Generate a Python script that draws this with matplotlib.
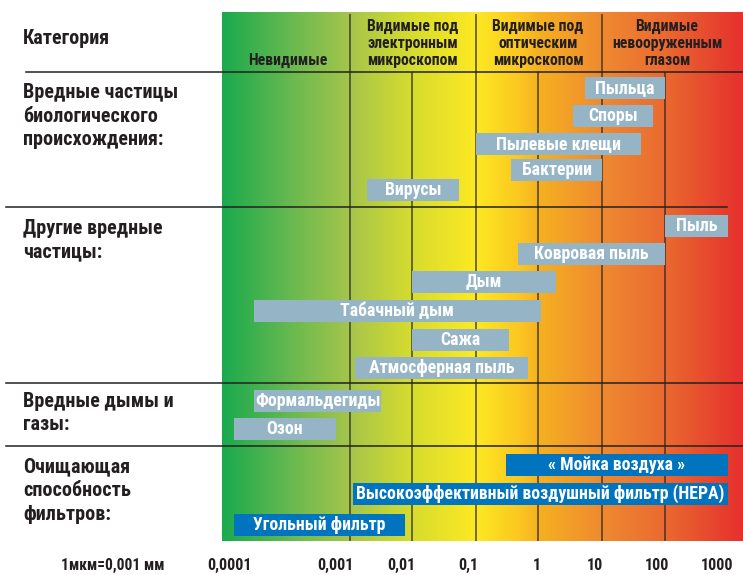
import numpy as np
import matplotlib
matplotlib.use("Agg")
import matplotlib.pyplot as plt
from matplotlib import font_manager
from matplotlib.transforms import ScaledTranslation

# шрифт: узкий, если есть
names = {f.name for f in font_manager.fontManager.ttflist}
candidates = ["Roboto Condensed", "Fira Sans Condensed", "PT Sans Narrow", "Archivo Narrow",
              "Liberation Sans Narrow", "DejaVu Sans"]
main_font = next(n for n in candidates if n in names)
plt.rcParams["font.family"] = [main_font, "DejaVu Sans"]
plt.rcParams["font.weight"] = "heavy"

# ---- данные (размер частиц, мкм) ----
bio_labels = ["Пыльца", "Споры", "Пылевые клещи", "Бактерии", "Вирусы"]
bio_low = [5.4, 3.5, 0.1, 0.37, 0.0019]
bio_high = [100, 65, 42, 10, 0.054]

other_labels = ["Пыль", "Ковровая пыль", "Дым", "Табачный дым", "Сажа", "Атмосферная пыль"]
other_low = [100, 0.48, 0.01, 0.00016, 0.01, 0.0012]
other_high = [1000, 100, 1.9, 1.1, 0.34, 0.7]

gas_labels = ["Формальдегиды", "Озон"]
gas_low = [0.00016, 0.00011]
gas_high = [0.0032, 0.00076]

filter_labels = ["« Мойка воздуха »", "Высокоэффективный воздушный фильтр (HEPA)", "Угольный фильтр"]
filter_low = [0.3, 0.0011, 0.00011]
filter_high = [1000, 1000, 0.0077]

category_labels = ["Вредные частицы\nбиологического\nпроисхождения:",
                   "Другие вредные\nчастицы:",
                   "Вредные дымы и\nгазы:",
                   "Очищающая\nспособность\nфильтров:"]
zone_labels = ["Невидимые", "Видимые под\nэлектронным\nмикроскопом",
               "Видимые под\nоптическим\nмикроскопом", "Видимые\nневооруженным\nглазом"]
tick_values = [1e-4, 1e-3, 1e-2, 1e-1, 1, 10, 100, 1000]
tick_labels = ["0,0001", "0,001", "0,01", "0,1", "1", "10", "100", "1000"]

# ---- шкала: логарифм, но левая зона растянута ----
W, H = 743, 575
log_knots = [-4.06, -4, -3, -2, -1, 0, 1, 2, 3, 3.24]
px_knots = [222, 229, 350, 412, 476, 538, 602, 665, 728, 743]


def fwd(v):
    v = np.asarray(v, dtype=float)
    return np.interp(np.log10(np.clip(v, 1e-12, None)), log_knots, px_knots)


def inv(p):
    return 10 ** np.interp(np.asarray(p, dtype=float), px_knots, log_knots)


TXT = "#231f20"
LIGHT = "#95b5c7"
BLUE = "#0074be"

fig = plt.figure(figsize=(W / 100, H / 100), dpi=100)

# фон в пикселях
bg = fig.add_axes([0, 0, 1, 1])
bg.set_xlim(0, W)
bg.set_ylim(H, 0)
bg.axis("off")

grad_px = [222, 300, 350, 412, 476, 520, 540, 602, 665, 743]
grad_col = ["#1aaa4e", "#72bb50", "#a5c54b", "#d6dc2e", "#fde923",
            "#fbc620", "#f5b020", "#ef8a30", "#ea6a30", "#e5302d"]
rgb = np.array([matplotlib.colors.to_rgb(c) for c in grad_col])
xs = np.linspace(222, 743, 600)
img = np.stack([np.interp(xs, grad_px, rgb[:, k]) for k in range(3)], axis=-1)[None, :, :]
bg.imshow(img, extent=[222, 743, 541, 12], aspect="auto", zorder=0)

# горизонтальные линии
bg.plot([26, 743], [72, 72], color="#222222", lw=1.1, zorder=1)
bg.plot([6, 727], [207, 207], color="#222222", lw=1.1, zorder=1)
bg.plot([6, 743], [383, 383], color="#222222", lw=1.1, zorder=1)
bg.plot([6, 743], [446, 446], color="#222222", lw=1.1, zorder=1)

bg.text(23, 39, "Категория", fontsize=14.5, color=TXT, va="center", ha="left")
for lbl, yc in zip(category_labels, [116, 240, 413, 491]):
    bg.text(23, yc, lbl, fontsize=14.5, color=TXT, va="center", ha="left", linespacing=1.33)
for lbl, xc in zip(zone_labels, [288, 413, 538, 667]):
    bg.text(xc, 68, lbl, fontsize=11.3, color=TXT, va="bottom", ha="center", linespacing=1.16)
bg.text(113, 565, "1мкм=0,001 мм", fontsize=11.2, color=TXT, va="center", ha="center")

# основная ось
ax = fig.add_axes([222 / W, (H - 541) / H, (743 - 222) / W, (541 - 12) / H])
ax.patch.set_alpha(0)
ax.set_xscale("function", functions=(fwd, inv))
ax.set_xlim(inv(222), inv(743))
ax.set_ylim(541, 12)
for s in ax.spines.values():
    s.set_visible(False)
ax.set_yticks([])
ax.set_xticks(tick_values)
ax.set_xticklabels(tick_labels, fontsize=11.5, color=TXT)
ax.tick_params(axis="x", length=0, pad=12)
for lbl, dx in zip(ax.get_xticklabels(), [0, -15, -11, -8, -1, -7, -8, -11]):
    lbl.set_transform(lbl.get_transform() + ScaledTranslation(dx / 100, 0, fig.dpi_scale_trans))

ax.vlines([1e-3, 1e-1, 10], 14, 541, color="#222222", lw=1.1, alpha=0.8, zorder=1)
ax.vlines([1e-2, 1, 100], 72, 541, color="#222222", lw=1.1, alpha=0.8, zorder=1)

groups = [
    (bio_labels, bio_low, bio_high, [88, 116, 144, 170, 190], LIGHT),
    (other_labels, other_low, other_high, [226, 254, 281.5, 311, 340, 368], LIGHT),
    (gas_labels, gas_low, gas_high, [401, 429], LIGHT),
    (filter_labels, filter_low, filter_high, [464.5, 494, 525], BLUE),
]
for labels, low, high, ys, col in groups:
    low = np.array(low)
    high = np.array(high)
    ax.barh(ys, high - low, left=low, height=22, color=col, zorder=2)
    for lbl, lo, hi, y in zip(labels, low, high, ys):
        xc = inv((fwd(lo) + fwd(hi)) / 2)
        ax.text(xc, y, lbl, color="white", fontsize=12.8, ha="center", va="center", zorder=3)

fig.savefig("out.png", dpi=100)
